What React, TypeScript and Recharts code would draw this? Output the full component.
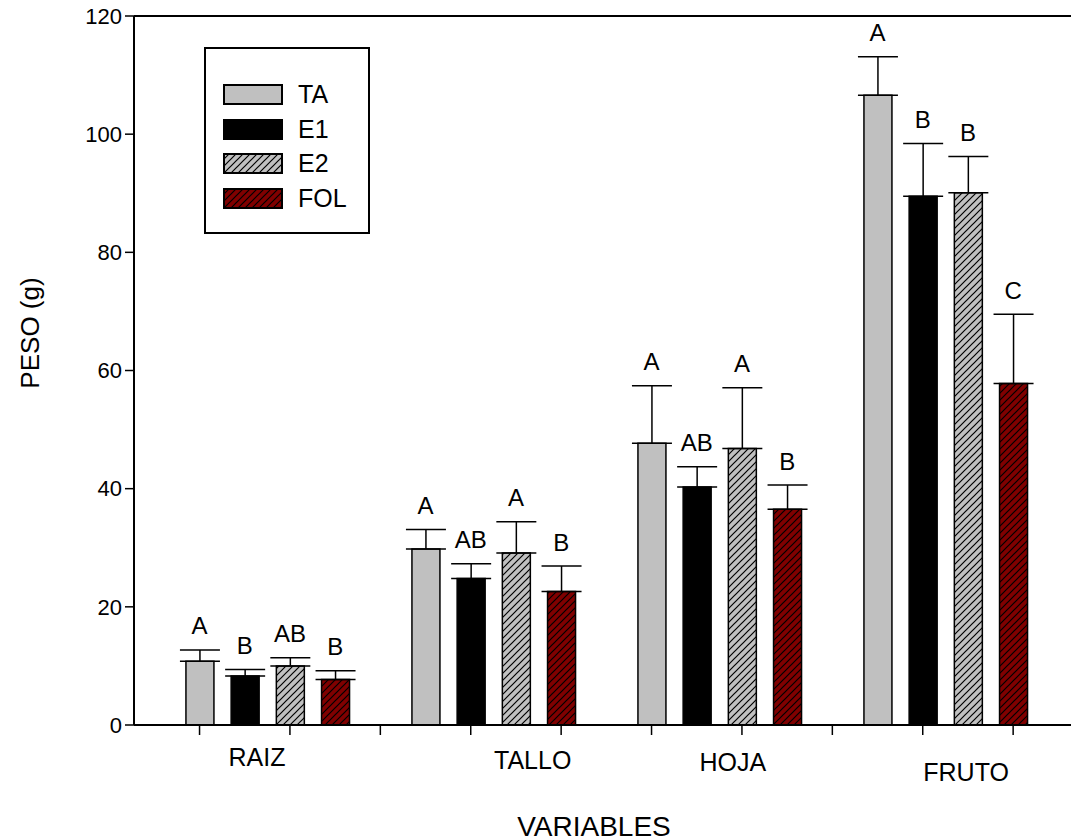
import React from 'react';
import {
  Bar,
  Cell,
  ComposedChart,
  ErrorBar,
  LabelList,
  Legend,
  ReferenceLine,
  Scatter,
  XAxis,
  YAxis,
} from 'recharts';

const categories = ['RAIZ', 'TALLO', 'HOJA', 'FRUTO'];
const treatments = ['TA', 'E1', 'E2', 'FOL'];

const meanTA = [10.8, 29.8, 47.7, 106.6];
const meanE1 = [8.3, 24.8, 40.3, 89.5];
const meanE2 = [10.0, 29.1, 46.8, 90.1];
const meanFOL = [7.7, 22.6, 36.5, 57.8];

const errTA = [1.9, 3.3, 9.7, 6.5];
const errE1 = [1.1, 2.5, 3.4, 8.9];
const errE2 = [1.4, 5.3, 10.3, 6.1];
const errFOL = [1.5, 4.3, 4.1, 11.7];

const lettersTA = ['A', 'A', 'A', 'A'];
const lettersE1 = ['B', 'AB', 'AB', 'B'];
const lettersE2 = ['AB', 'A', 'A', 'B'];
const lettersFOL = ['B', 'B', 'B', 'C'];

const yTicks = [0, 20, 40, 60, 80, 100, 120];

const means = [meanTA, meanE1, meanE2, meanFOL];
const errs = [errTA, errE1, errE2, errFOL];
const letters = [lettersTA, lettersE1, lettersE2, lettersFOL];

// one slot per bar, an empty slot between groups
const SLOTS_PER_GROUP = 5;
const rows = categories.flatMap((_, g) =>
  treatments.map((t, i) => ({
    slot: g * SLOTS_PER_GROUP + i,
    treatment: i,
    value: means[i][g],
    err: [0, errs[i][g]],
    cap: means[i][g] + errs[i][g],
    letter: letters[i][g],
  })),
);

const FONT = '"Liberation Sans", Arial, sans-serif';
const fills = ['#c0c0c0', '#000000', 'url(#hatchGray)', 'url(#hatchRed)'];

// x tick marks every second slot; group names placed between them
const markTicks = [0, 2, 4, 6, 8, 10, 12, 14, 16, 18];
const nameTicks = [
  { slot: 1.27, dy: 32 },
  { slot: 7.37, dy: 35 },
  { slot: 11.8, dy: 37 },
  { slot: 16.96, dy: 47 },
];

function XTick(props: any) {
  const { x, y, payload } = props;
  const idx = nameTicks.findIndex((n) => n.slot === payload.value);
  if (idx >= 0) {
    return (
      <text
        x={x}
        y={y + nameTicks[idx].dy}
        textAnchor="middle"
        dominantBaseline="central"
        fontSize={25}
        fontFamily={FONT}
        fill="#000"
      >
        {categories[idx]}
      </text>
    );
  }
  return <line x1={x} x2={x} y1={y} y2={y + 10} stroke="#000" strokeWidth={1.5} />;
}

function LegendBox() {
  return (
    <div
      style={{
        width: 166,
        height: 187,
        border: '2px solid #000',
        boxSizing: 'border-box',
        background: '#fff',
        position: 'relative',
        fontFamily: FONT,
      }}
    >
      {treatments.map((t, i) => (
        <div
          key={t}
          style={{
            position: 'absolute',
            left: 17,
            top: 35 + i * 34.7,
            height: 21,
            display: 'flex',
            alignItems: 'center',
          }}
        >
          <svg width={60} height={21} style={{ display: 'block' }}>
            <rect x={1} y={1} width={58} height={19} fill={fills[i]} stroke="#000" strokeWidth={2} />
          </svg>
          <span style={{ marginLeft: 15, fontSize: 25, lineHeight: '21px', color: '#000' }}>{t}</span>
        </div>
      ))}
    </div>
  );
}

export default function App() {
  const allTicks = [...markTicks, ...nameTicks.map((n) => n.slot)].sort((a, b) => a - b);
  return (
    <div style={{ position: 'absolute', left: 0, top: 0, width: 1071, height: 840, background: '#fff' }}>
      <ComposedChart
        width={1071}
        height={840}
        data={rows}
        margin={{ top: 16, right: 0, bottom: 0, left: 0 }}
      >
        <defs>
          <pattern id="hatchGray" patternUnits="userSpaceOnUse" width={7} height={7}>
            <rect width={7} height={7} fill="#c0c0c0" />
            <path d="M-1,1 l2,-2 M0,7 l7,-7 M6,8 l2,-2" stroke="#000" strokeWidth={1.2} />
          </pattern>
          <pattern id="hatchRed" patternUnits="userSpaceOnUse" width={7} height={7}>
            <rect width={7} height={7} fill="#800000" />
            <path d="M-1,1 l2,-2 M0,7 l7,-7 M6,8 l2,-2" stroke="#000" strokeWidth={1.2} />
          </pattern>
        </defs>
        <XAxis
          type="number"
          dataKey="slot"
          domain={[-1.45, 19.28]}
          allowDataOverflow
          ticks={allTicks}
          interval={0}
          tick={<XTick />}
          tickLine={false}
          tickSize={0}
          tickMargin={0}
          height={115}
          axisLine={{ stroke: '#000', strokeWidth: 2 }}
          label={{
            content: () => (
              <text
                x={594}
                y={826}
                textAnchor="middle"
                dominantBaseline="central"
                fontSize={28}
                fontFamily={FONT}
                fill="#000"
              >
                VARIABLES
              </text>
            ),
          }}
        />
        <YAxis
          type="number"
          domain={[0, 120]}
          ticks={yTicks}
          width={134}
          tickSize={9}
          tickMargin={3}
          axisLine={{ stroke: '#000', strokeWidth: 2 }}
          tickLine={{ stroke: '#000', strokeWidth: 1.5 }}
          tick={{ fontSize: 22, fontFamily: FONT, fill: '#000' }}
          label={{
            content: () => (
              <text
                x={30}
                y={333}
                transform="rotate(-90 30 333)"
                textAnchor="middle"
                dominantBaseline="central"
                fontSize={26}
                fontFamily={FONT}
                fill="#000"
              >
                PESO (g)
              </text>
            ),
          }}
        />
        <ReferenceLine y={120} stroke="#000" strokeWidth={2} />
        <Bar dataKey="value" barSize={28} isAnimationActive={false}>
          {rows.map((r) => (
            <Cell key={r.slot} fill={fills[r.treatment]} stroke="#000" strokeWidth={1.5} />
          ))}
          <ErrorBar dataKey="err" direction="y" width={20} stroke="#000" strokeWidth={1.5} />
        </Bar>
        <Scatter dataKey="cap" shape={() => <g />} isAnimationActive={false}>
          <LabelList
            dataKey="letter"
            position="top"
            offset={11}
            fontSize={24}
            fontFamily={FONT}
            fill="#000"
          />
        </Scatter>
        <Legend
          layout="vertical"
          align="center"
          verticalAlign="middle"
          wrapperStyle={{ left: 204, top: 47, width: 166, height: 187 }}
          content={() => <LegendBox />}
        />
      </ComposedChart>
    </div>
  );
}
